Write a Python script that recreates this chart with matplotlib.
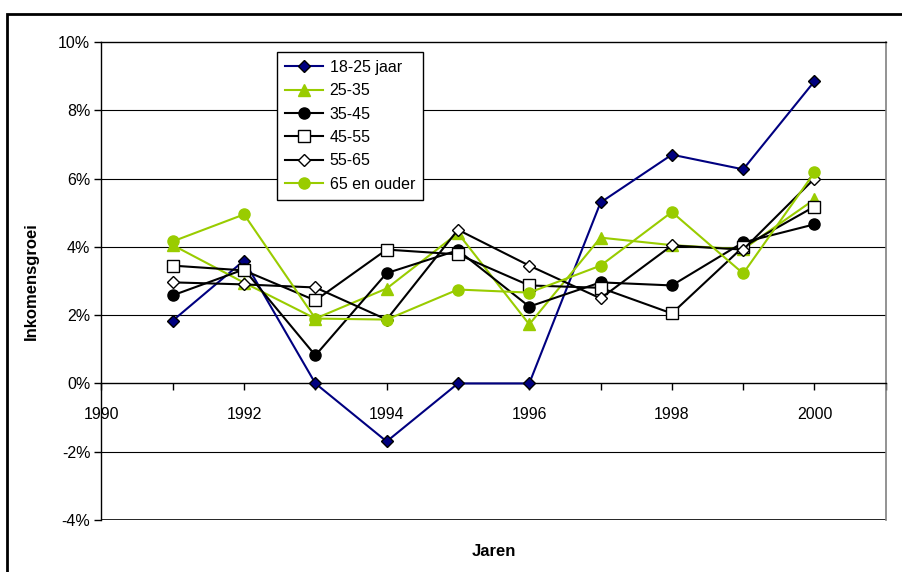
import matplotlib.pyplot as plt
from matplotlib.patches import Rectangle
from matplotlib.ticker import FuncFormatter, MultipleLocator

plt.rcParams["font.family"] = ["Liberation Sans", "DejaVu Sans"]

years = [1991, 1992, 1993, 1994, 1995, 1996, 1997, 1998, 1999, 2000]

# inkomensgroei per leeftijdsgroep, in %
groei_18_25 = [1.84, 3.6, 0.0, -1.7, 0.0, 0.0, 5.3, 6.7, 6.27, 8.85]
groei_25_35 = [4.05, 2.95, 1.9, 2.78, 4.4, 1.73, 4.27, 4.05, 3.93, 5.39]
groei_35_45 = [2.58, 3.34, 0.82, 3.23, 3.9, 2.25, 2.96, 2.87, 4.13, 4.66]
groei_45_55 = [3.45, 3.31, 2.43, 3.92, 3.78, 2.87, 2.8, 2.05, 4.0, 5.18]
groei_55_65 = [2.96, 2.9, 2.81, 1.87, 4.5, 3.45, 2.49, 4.04, 3.92, 6.0]
groei_65_plus = [4.16, 4.95, 1.9, 1.87, 2.75, 2.66, 3.45, 5.02, 3.22, 6.18]

labels = ["18-25 jaar", "25-35", "35-45", "45-55", "55-65", "65 en ouder"]

navy = "#000080"
green = "#99CC00"

fig = plt.figure(figsize=(9.02, 5.72), dpi=100)
ax = fig.add_axes([0.1125, 0.0909, 0.8695, 0.8357])

series = [
    (groei_18_25, dict(color=navy, marker="D", mfc=navy, mec="black", ms=6)),
    (groei_25_35, dict(color=green, marker="^", mfc=green, mec=green, ms=8)),
    (groei_35_45, dict(color="black", marker="o", mfc="black", mec="black", ms=8)),
    (groei_45_55, dict(color="black", marker="s", mfc="white", mec="black", ms=8)),
    (groei_55_65, dict(color="black", marker="D", mfc="white", mec="black", ms=6)),
    (groei_65_plus, dict(color=green, marker="o", mfc=green, mec=green, ms=8)),
]
for (vals, style), label in zip(series, labels):
    ax.plot(years, vals, lw=1.5, label=label, zorder=3, **style)

ax.set_xlim(1990, 2001)
ax.set_ylim(-4, 10)

# gridlines
for y in [-2, 2, 4, 6, 8]:
    ax.axhline(y, color="black", lw=0.8, zorder=1)
ax.axhline(-4, color="black", lw=1.2, zorder=1)

for side in ["top", "left"]:
    ax.spines[side].set_color("black")
    ax.spines[side].set_linewidth(1.0)
ax.spines["right"].set_color("#808080")
ax.spines["right"].set_linewidth(1.2)
ax.spines["bottom"].set_position(("data", 0))
ax.spines["bottom"].set_color("black")
ax.spines["bottom"].set_linewidth(1.0)

ax.xaxis.set_major_locator(MultipleLocator(2))
ax.xaxis.set_minor_locator(MultipleLocator(1))
ax.tick_params(axis="x", which="both", direction="out", length=5, width=1,
               labelsize=11.5, pad=12)
ax.yaxis.set_major_locator(MultipleLocator(2))
ax.yaxis.set_major_formatter(FuncFormatter(lambda v, p: f"{v:.0f}%"))
ax.tick_params(axis="y", direction="out", length=5, width=1, labelsize=11.5, pad=3)

ax.set_ylabel("Inkomensgroei", fontsize=12, fontweight="bold", labelpad=14)
fig.text(0.547, 0.036, "Jaren", fontsize=12, fontweight="bold", ha="center", va="center")

leg = ax.legend(loc="upper left", bbox_to_anchor=(0.2237, 0.979), borderaxespad=0,
                fancybox=False, framealpha=1, edgecolor="black", fontsize=11.5,
                handlelength=2.4, borderpad=0.5, labelspacing=0.52,
                handletextpad=0.4)
leg.get_frame().set_linewidth(1.0)

# outer chart frame (cut off at right and bottom)
fig.patches.append(Rectangle((7 / 902, -0.1), 1.2, 1.1 - 14 / 572,
                             transform=fig.transFigure, fill=False,
                             edgecolor="black", lw=2))

fig.savefig("out.png", dpi=100)
